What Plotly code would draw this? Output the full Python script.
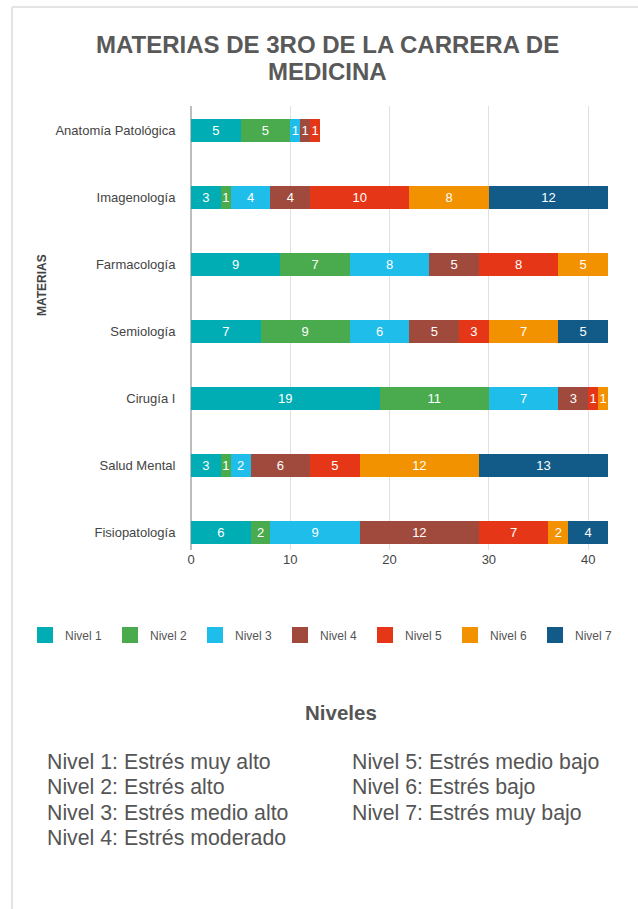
import plotly.graph_objects as go

# ---------------- data ----------------
materias = ["Anatomía Patológica", "Imagenología", "Farmacología", "Semiología",
            "Cirugía I", "Salud Mental", "Fisiopatología"]
niveles = ["Nivel 1", "Nivel 2", "Nivel 3", "Nivel 4", "Nivel 5", "Nivel 6", "Nivel 7"]
nivel1 = [5, 3, 9, 7, 19, 3, 6]
nivel2 = [5, 1, 7, 9, 11, 1, 2]
nivel3 = [1, 4, 8, 6, 7, 2, 9]
nivel4 = [1, 4, 5, 5, 3, 6, 12]
nivel5 = [1, 10, 8, 3, 1, 5, 7]
nivel6 = [None, 8, 5, 7, 1, 12, 2]
nivel7 = [None, 12, None, 5, None, 13, 4]
series = [nivel1, nivel2, nivel3, nivel4, nivel5, nivel6, nivel7]
colores = ["#00ADB5", "#4AAB4E", "#1FBDEA", "#9F4A3C", "#E53717", "#F39200", "#125B88"]
x_ticks = [0, 10, 20, 30, 40]
descripcion_izq = ["Nivel 1: Estrés muy alto", "Nivel 2: Estrés alto",
                   "Nivel 3: Estrés medio alto", "Nivel 4: Estrés moderado"]
descripcion_der = ["Nivel 5: Estrés medio bajo", "Nivel 6: Estrés bajo",
                   "Nivel 7: Estrés muy bajo"]

FONT = "Arial, 'Liberation Sans', sans-serif"
W, H = 638, 909
PL, PR, PT, PB = 191, 608, 106, 550  # plot area in pixels


def px_x(px):
    return (px - PL) / (PR - PL)


def px_y(py):
    return (PB - py) / (PB - PT)


fig = go.Figure()
for name, vals, col in zip(niveles, series, colores):
    fig.add_trace(go.Bar(
        y=materias, x=vals, name=name, orientation="h",
        marker=dict(color=col, line=dict(width=0)),
        texttemplate="%{x}", textposition="inside", insidetextanchor="middle",
        textangle=0, textfont=dict(color="white", size=13, family=FONT),
        showlegend=False, hoverinfo="x+name",
    ))
# legend entries
for name, col in zip(niveles, colores):
    fig.add_trace(go.Scatter(
        x=[None], y=[None], mode="markers", name=name,
        marker=dict(symbol="square", size=16, color=col), showlegend=True,
    ))

annotations = [
    dict(text="<b>MATERIAS DE 3RO DE LA CARRERA DE</b>", x=px_x(327), y=px_y(44)),
    dict(text="<b>MEDICINA</b>", x=px_x(327), y=px_y(72)),
]
for a in annotations:
    a.update(xref="paper", yref="paper", xanchor="center", yanchor="middle",
             showarrow=False, font=dict(size=24, color="#595959", family=FONT))

annotations.append(dict(text="<b>MATERIAS</b>", x=px_x(42), y=px_y(285), xref="paper",
                        yref="paper", textangle=-90, showarrow=False,
                        xanchor="center", yanchor="middle",
                        font=dict(size=12, color="#444444", family=FONT)))
annotations.append(dict(text="<b>Niveles</b>", x=px_x(341), y=px_y(712), xref="paper",
                        yref="paper", showarrow=False, xanchor="center", yanchor="middle",
                        font=dict(size=20.5, color="#555555", family=FONT)))
line_y = [762, 787.3, 812.6, 838]
for i, t in enumerate(descripcion_izq):
    annotations.append(dict(text=t, x=px_x(45), y=px_y(line_y[i]), xref="paper", yref="paper",
                            showarrow=False, xanchor="left", yanchor="middle",
                            font=dict(size=21.3, color="#555555", family=FONT)))
for i, t in enumerate(descripcion_der):
    annotations.append(dict(text=t, x=px_x(350), y=px_y(line_y[i]), xref="paper", yref="paper",
                            showarrow=False, xanchor="left", yanchor="middle",
                            font=dict(size=21.3, color="#555555", family=FONT)))

border = "#E4E4E4"
shapes = [
    dict(type="line", xref="paper", yref="paper", x0=px_x(12), x1=px_x(640),
         y0=px_y(7), y1=px_y(7), line=dict(color=border, width=2)),
    dict(type="line", xref="paper", yref="paper", x0=px_x(12), x1=px_x(12),
         y0=px_y(7), y1=px_y(912), line=dict(color=border, width=2)),
]

fig.update_layout(
    width=W, height=H,
    margin=dict(l=PL, r=W - PR, t=PT, b=H - PB, pad=0),
    paper_bgcolor="white", plot_bgcolor="white",
    barmode="stack", bargap=0.661,
    font=dict(family=FONT, color="#444444"),
    xaxis=dict(range=[0, 42], tickvals=x_ticks, showgrid=True, gridcolor="#E0E0E0",
               gridwidth=1, zeroline=True, zerolinecolor="#BDBDBD", zerolinewidth=2,
               showline=False, ticks="", tickfont=dict(size=13, color="#444444"),
               fixedrange=True),
    yaxis=dict(categoryorder="array", categoryarray=materias[::-1],
               range=[-0.261, 6.366], showgrid=False, zeroline=False, showline=False,
               ticks="outside", ticklen=12, tickcolor="rgba(0,0,0,0)",
               tickfont=dict(size=13, color="#444444"), fixedrange=True),
    legend=dict(orientation="h", x=px_x(25), y=px_y(635), xanchor="left", yanchor="middle",
                traceorder="normal",
                entrywidth=40, entrywidthmode="pixels",
                font=dict(size=12, color="#555555", family=FONT),
                bgcolor="rgba(0,0,0,0)"),
    uniformtext=dict(minsize=13, mode="show"),
    annotations=annotations, shapes=shapes,
)

fig.write_html("out.html")
